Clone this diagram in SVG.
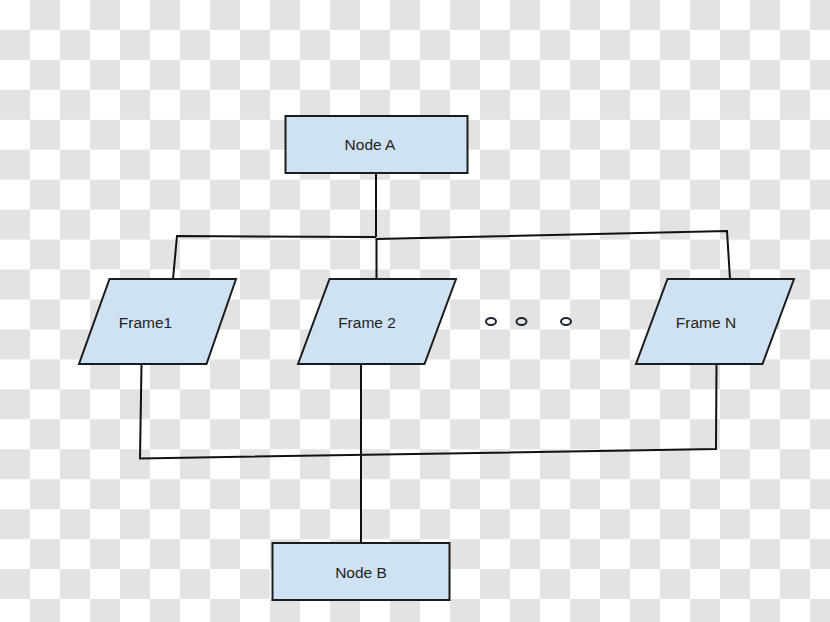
<svg xmlns="http://www.w3.org/2000/svg" width="830" height="622" viewBox="0 0 830 622">
  <defs>
    <pattern id="checker" x="0" y="0" width="60" height="59.9" patternUnits="userSpaceOnUse">
      <rect x="0" y="0" width="60" height="59.9" fill="#ffffff"/>
      <rect x="30" y="0" width="30" height="29.95" fill="#e3e3e3"/>
      <rect x="0" y="29.95" width="30" height="29.95" fill="#e3e3e3"/>
    </pattern>
    <style>
      .shape { fill: #cfe2f3; stroke: #1c1c1c; stroke-width: 2; stroke-linejoin: miter; }
      .conn { fill: none; stroke: #111111; stroke-width: 2; stroke-linejoin: miter; }
      .dot { fill: none; stroke: #1c2430; stroke-width: 2; }
      .label { font-family: "Liberation Sans", Arial, sans-serif; font-size: 15.5px; fill: #222222; text-anchor: middle; dominant-baseline: central; }
    </style>
  </defs>
  <rect x="0" y="0" width="830" height="622" fill="url(#checker)"/>

  <g id="connectors">
    <polyline class="conn" points="376,173 376,237"/>
    <polyline class="conn" points="173,279 177,236 376,237"/>
    <polyline class="conn" points="376.5,279 376.5,239 727,231 730,279"/>
    <polyline class="conn" points="141.5,364 140,458.5 716,449 716.5,364"/>
    <polyline class="conn" points="361,364 361,543"/>
  </g>

  <g id="nodeA">
    <rect class="shape" x="285.5" y="116" width="182" height="57"/>
    <text class="label" x="370" y="144">Node A</text>
  </g>

  <g id="frame1">
    <polygon class="shape" points="109.5,279 236,279 206.5,364 79,364"/>
    <text class="label" x="145.5" y="322">Frame1</text>
  </g>

  <g id="frame2">
    <polygon class="shape" points="329.5,279 456,279 424.5,364 298,364"/>
    <text class="label" x="367" y="322">Frame 2</text>
  </g>

  <g id="ellipsis">
    <ellipse class="dot" cx="491" cy="321.5" rx="5" ry="3.5"/>
    <ellipse class="dot" cx="521.5" cy="321.5" rx="5" ry="3.5"/>
    <ellipse class="dot" cx="566" cy="321.5" rx="5" ry="3.5"/>
  </g>

  <g id="frameN">
    <polygon class="shape" points="667.5,279 794,279 762.5,364 636,364"/>
    <text class="label" x="706" y="322">Frame N</text>
  </g>

  <g id="nodeB">
    <rect class="shape" x="272.5" y="543" width="177" height="57"/>
    <text class="label" x="361" y="572">Node B</text>
  </g>
</svg>
